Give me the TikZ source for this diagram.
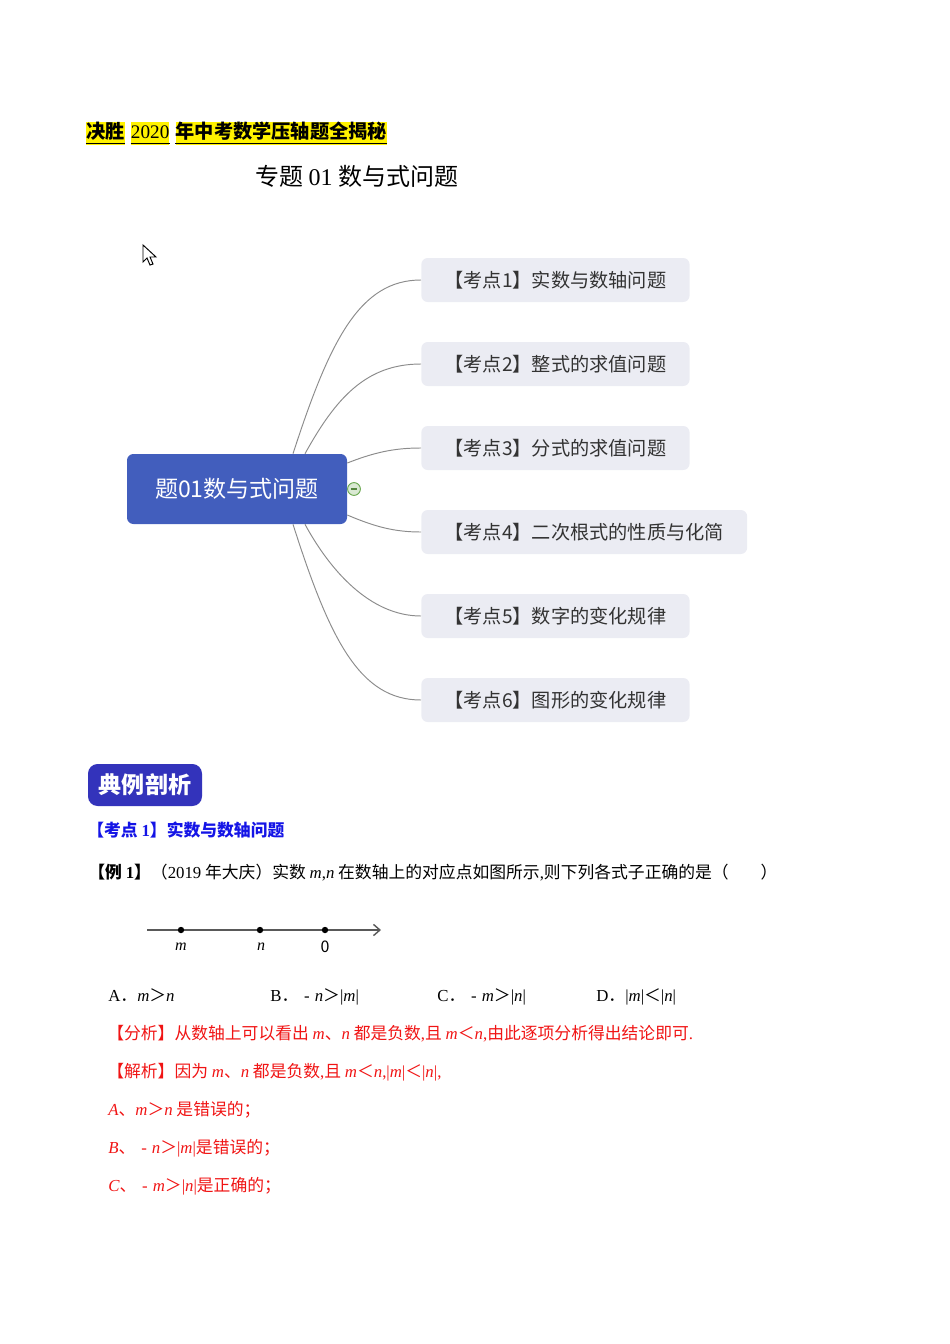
\documentclass[tikz,border=0pt]{standalone}
\usepackage{fontspec}
\setmainfont{Noto Sans CJK SC}
\newfontfamily\tnr{Liberation Serif}
\usetikzlibrary{positioning,calc,arrows.meta}

\newcommand\ivar[1]{{\tnr\itshape #1}}
\newcommand\rom[1]{{\tnr #1}}
\newcommand\negs{\hspace{0.35em}{\tnr -}\hspace{0.3em}}

\definecolor{mapblue}{RGB}{66,94,189}
\definecolor{leafgray}{RGB}{235,236,243}
\definecolor{leaftext}{RGB}{51,51,51}
\definecolor{linkgray}{RGB}{140,140,140}
\definecolor{foldgreen}{RGB}{106,168,79}
\definecolor{badgeblue}{RGB}{51,51,187}
\definecolor{headblue}{RGB}{20,20,230}
\definecolor{ansred}{RGB}{240,20,20}

\tikzset{
  root/.style={fill=mapblue, rounded corners=4pt, minimum width=137.5pt,
    minimum height=43.75pt, text=white, font=\fontsize{14.4}{16}\selectfont},
  leaf/.style={fill=leafgray, rounded corners=4pt, inner xsep=14.5pt,
    minimum height=27.5pt, text=leaftext, anchor=west,
    font=\fontsize{12}{14}\selectfont},
  link/.style={draw=linkgray, line width=0.6pt},
  txtline/.style={anchor=base west, inner sep=0pt, font=\fontsize{10.5}{12}\selectfont},
  ans/.style={txtline, text=ansred},
  hl/.style={fill=yellow, inner xsep=0pt, inner ysep=1pt, text height=9.5pt,
    text depth=3pt, font=\fontsize{12}{14}\selectfont\bfseries},
  badge/.style={fill=badgeblue, rounded corners=6pt, minimum width=71.25pt,
    minimum height=26.25pt, text=white, font=\fontsize{14.4}{16}\selectfont\bfseries},
  dot/.style={circle, fill=black, inner sep=0pt, minimum size=4pt},
  numlbl/.style={inner sep=0pt, font=\fontsize{10}{11}\selectfont},
}

\begin{document}
\begin{tikzpicture}[x=0.625pt, y=-0.625pt]
  \useasboundingbox (0,0) rectangle (950,1344);

  % header
  \node[hl, anchor=base west] (h1) at (86,139) {决胜};
  \node[hl, base right=3.5pt of h1, font=\fontsize{12}{14}\selectfont\tnr] (h2) {2020};
  \node[hl, base right=3.5pt of h2] (h3) {年中考数学压轴题全揭秘};
  \foreach \h in {h1,h2,h3}
    \draw[line width=1pt] ([yshift=1.5pt]\h.south west) -- ([yshift=1.5pt]\h.south east);
  \node[txtline, font=\fontsize{15}{18}\selectfont] (title) at (255,186) {专题 \rom{01} 数与式问题};

  % pointer
  \draw[line width=0.6pt, fill=white] (143,245) -- (143,262) -- (147,258) -- (150,265)
    -- (153,264) -- (150,257) -- (156,257) -- cycle;

  % mind map
  \node[root] (root) at (237,489) {题01数与式问题};
  \node[circle, draw=foldgreen, fill=foldgreen!25, line width=0.6pt, minimum size=8pt,
    inner sep=0pt] (fold) at (354,489) {};
  \draw[foldgreen!80!black, line width=0.7pt] ([xshift=-2pt]fold.center) -- ([xshift=2pt]fold.center);
  \foreach \i/\t in {1/实数与数轴问题, 2/整式的求值问题, 3/分式的求值问题,
      4/二次根式的性质与化简, 5/数字的变化规律, 6/图形的变化规律}
    \node[leaf] (k\i) at (421,196+84*\i) {【考点\i】\t};
  \draw[link] ($(root.north)+(56,0)$) .. controls +(37,-114) and +(-61,0) .. (k1.west);
  \draw[link] ($(root.north)+(68,0)$) .. controls +(30,-54) and +(-56,0) .. (k2.west);
  \draw[link] ($(root.east)+(0,-26)$) .. controls +(28,-11) and +(-26,0) .. (k3.west);
  \draw[link] ($(root.east)+(0,26)$) .. controls +(28,12) and +(-26,0) .. (k4.west);
  \draw[link] ($(root.south)+(68,0)$) .. controls +(25,46) and +(-51,0) .. (k5.west);
  \draw[link] ($(root.south)+(56,0)$) .. controls +(37,116) and +(-61,0) .. (k6.west);

  % worked example
  \node[badge] (sect) at (145,785) {典例剖析};
  \node[txtline, text=headblue, font=\fontsize{10.5}{12}\selectfont\bfseries] (kd1)
    at (87,836) {【考点 \rom{\bfseries 1}】实数与数轴问题};
  \node[txtline] (ex1) at (88,878) {\textbf{【例 \rom{\bfseries 1}】}（\rom{2019} 年大庆）实数
    \ivar{m}\rom{,}\ivar{n} 在数轴上的对应点如图所示\rom{,}则下列各式子正确的是（\hspace{1.9em}）};

  % number line
  \coordinate (a0) at (147,930);
  \coordinate (a1) at (381,930);
  \draw[draw=black!65, line width=0.9pt, -{Straight Barb[length=4pt, width=7pt]}] (a0) -- (a1);
  \node[dot] (pm) at (181,930) {};
  \node[dot] (pn) at (260,930) {};
  \node[dot] (po) at (325,930) {};
  \node[numlbl] (lm) at (181,947) {\ivar{m}};
  \node[numlbl] (ln) at (261,947) {\ivar{n}};
  \node[numlbl] (lo) at (325,947) {0};

  % choices
  \node[txtline] (oa) at (108,1001) {\rom{A}．\ivar{m}＞\ivar{n}};
  \node[txtline] (ob) at (270,1001) {\rom{B}．\negs\ivar{n}＞\rom{|}\ivar{m}\rom{|}};
  \node[txtline] (oc) at (437,1001) {\rom{C}．\negs\ivar{m}＞\rom{|}\ivar{n}\rom{|}};
  \node[txtline] (od) at (596,1001) {\rom{D}．\rom{|}\ivar{m}\rom{|}＜\rom{|}\ivar{n}\rom{|}};

  % solution
  \node[ans] (r1) at (107,1039) {【分析】从数轴上可以看出 \ivar{m}、\ivar{n} 都是负数\rom{,}且
    \ivar{m}＜\ivar{n}\rom{,}由此逐项分析得出结论即可\rom{.}};
  \node[ans] (r2) at (107,1077) {【解析】因为 \ivar{m}、\ivar{n} 都是负数\rom{,}且
    \ivar{m}＜\ivar{n}\rom{,|}\ivar{m}\rom{|}＜\rom{|}\ivar{n}\rom{|,}};
  \node[ans] (r3) at (108,1115) {\ivar{A}、\ivar{m}＞\ivar{n} 是错误的；};
  \node[ans] (r4) at (108,1153) {\ivar{B}、\negs\ivar{n}＞\rom{|}\ivar{m}\rom{|}是错误的；};
  \node[ans] (r5) at (108,1191) {\ivar{C}、\negs\ivar{m}＞\rom{|}\ivar{n}\rom{|}是正确的；};
\end{tikzpicture}
\end{document}
